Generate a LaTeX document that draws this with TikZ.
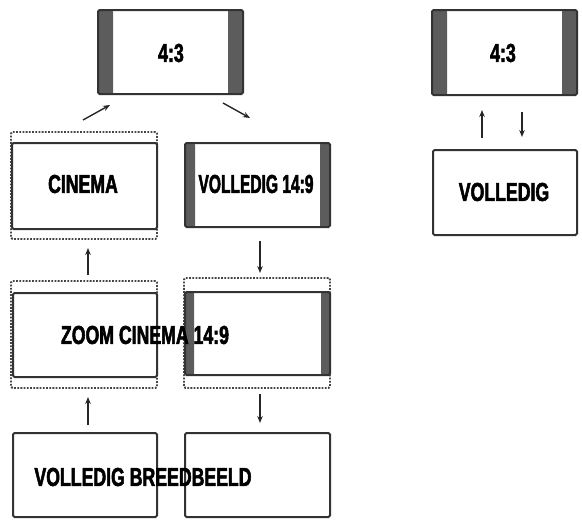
\documentclass[tikz,border=0pt]{standalone}
\usepackage{fontspec}
\newfontfamily\lblfont{Liberation Sans Bold}[FakeStretch=0.68,FakeBold=2]
\usetikzlibrary{arrows.meta}
\definecolor{edgec}{HTML}{333333}
\definecolor{barc}{HTML}{5C5C5C}
\definecolor{dashc}{HTML}{444444}
\tikzset{
  screen/.style={draw=edgec, line width=2pt, rounded corners=1.5pt, fill=white, minimum width=145pt, minimum height=84pt, inner sep=0pt},
  bars/.style={path picture={
     \fill[barc] (path picture bounding box.south west) rectangle ([xshift=#1]path picture bounding box.north west);
     \fill[barc] (path picture bounding box.south east) rectangle ([xshift=-#1]path picture bounding box.north east);}},
  frame/.style={draw=dashc, line width=1.8pt, dash pattern=on 1.8pt off 1.4pt, rounded corners=1.5pt, minimum width=146pt, minimum height=107pt, inner sep=0pt},
  lbl/.style={font=\lblfont\fontsize{26}{27}\selectfont, inner sep=0pt, text=black},
  arr/.style={line width=1.4pt, -{Stealth[length=7pt,width=5.5pt]}, draw=black!85}
}
\begin{document}
\begin{tikzpicture}[x=1pt,y=-1pt]
\useasboundingbox (0,0) rectangle (582,520);
% dashed frames
\node[frame] (cinD) at (84,185.5) {};
\node[frame] (zcD) at (84,334.5) {};
\node[frame, minimum height=110pt] (zrD) at (257,333) {};
% screens
\node[screen, bars=15pt] (top43) at (170.5,52) {};
\node[screen, minimum height=86pt] (cin) at (84.5,186) {};
\node[screen, bars=10pt] (v149) at (257.5,185) {};
\node[screen, minimum width=144pt] (zc) at (85,335) {};
\node[screen, bars=9pt, minimum height=83pt] (zr) at (257.5,333.5) {};
\node[screen, minimum width=144pt] (bl) at (85,475) {};
\node[screen] (br) at (257.5,475) {};
\node[screen, bars=15pt, minimum height=85pt] (r43) at (504.5,52.5) {};
\node[screen, minimum width=144pt, minimum height=85pt] (rv) at (505,192.5) {};
% labels
\node[lbl] (t1) at (171,53) {4:3};
\node[lbl] (t2) at (83,184) {CINEMA};
\node[lbl] (t3) at (256,184) {\scalebox{0.88}[1]{VOLLEDIG 14:9}};
\node[lbl] (t4) at (145,335) {ZOOM CINEMA 14:9};
\node[lbl] (t5) at (143,477) {VOLLEDIG BREEDBEELD};
\node[lbl] (t6) at (503,53) {4:3};
\node[lbl] (t7) at (504,192) {VOLLEDIG};
% arrow ends
\coordinate (a1s) at (83,120); \coordinate (a1e) at (110,105);
\coordinate (a2s) at (223,103); \coordinate (a2e) at (250,118);
\coordinate (a3s) at (88,275); \coordinate (a3e) at (88,248);
\coordinate (a4s) at (260,241); \coordinate (a4e) at (260,273);
\coordinate (a5s) at (88,425); \coordinate (a5e) at (88,397);
\coordinate (a6s) at (260,394); \coordinate (a6e) at (260,423);
\coordinate (a7s) at (482,138); \coordinate (a7e) at (482,110);
\coordinate (a8s) at (522,112); \coordinate (a8e) at (522,137);
\foreach \i in {1,...,8} {\draw[arr] (a\i s) -- (a\i e);}
\end{tikzpicture}
\end{document}
